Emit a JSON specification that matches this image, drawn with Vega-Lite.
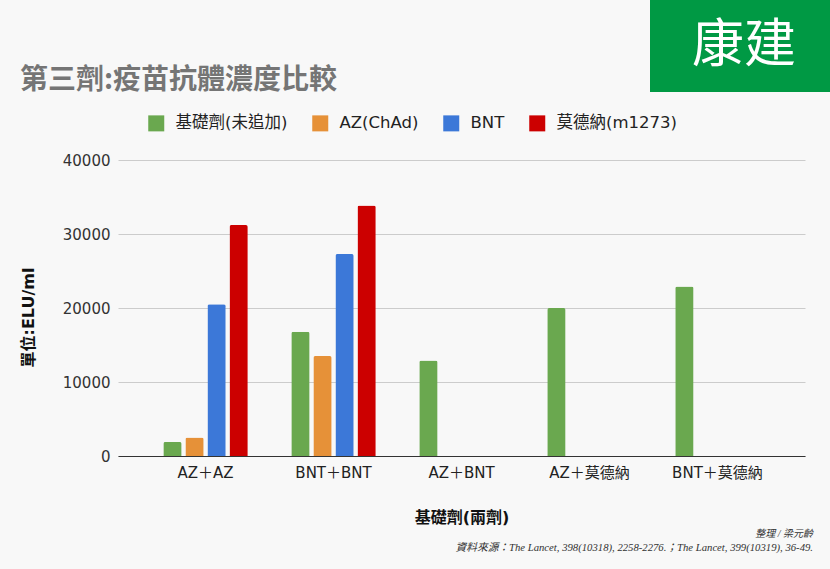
{
  "$schema": "https://vega.github.io/schema/vega-lite/v6.json",
  "background": "#f8f8f8",
  "padding": {"left": 20, "top": 0, "right": 0, "bottom": 24},
  "autosize": {"type": "pad"},
  "spacing": 20,
  "resolve": {"legend": {"color": "independent"}, "scale": {"color": "independent"}},
  "config": {
    "view": {"stroke": null},
    "font": "DejaVu Sans, Noto Sans CJK TC, sans-serif",
    "concat": {"spacing": 0}
  },
  "vconcat": [
    {
      "hconcat": [
        {
          "width": 532,
          "height": 62,
          "title": {"text": "第三劑:疫苗抗體濃度比較", "orient": "bottom", "anchor": "start", "frame": "group", "font": "Noto Sans CJK TC, sans-serif", "fontSize": 28, "fontWeight": "bold", "color": "#757575", "offset": 5, "dx": -98},
          "data": {"values": [{"t": ""}]},
          "mark": {"type": "text"},
          "encoding": {"text": {"field": "t"}}
        },
        {
          "width": 180,
          "height": 92,
          "view": {"fill": "#009944", "stroke": null},
          "data": {"values": [{"t": "康建"}]},
          "mark": {"type": "text", "fontSize": 52, "color": "#ffffff", "font": "Noto Sans CJK TC", "fontWeight": "normal", "align": "center", "baseline": "middle", "dx": 4},
          "encoding": {"text": {"field": "t"}}
        }
      ],
      "spacing": 0
    },
    {
      "width": 687,
      "height": 296,
      "data": {"values": [
        {"group": "AZ＋AZ", "series": "基礎劑(未追加)", "value": 1900},
        {"group": "AZ＋AZ", "series": "AZ(ChAd)", "value": 2500},
        {"group": "AZ＋AZ", "series": "BNT", "value": 20500},
        {"group": "AZ＋AZ", "series": "莫德納(m1273)", "value": 31200},
        {"group": "BNT＋BNT", "series": "基礎劑(未追加)", "value": 16800},
        {"group": "BNT＋BNT", "series": "AZ(ChAd)", "value": 13500},
        {"group": "BNT＋BNT", "series": "BNT", "value": 27300},
        {"group": "BNT＋BNT", "series": "莫德納(m1273)", "value": 33850},
        {"group": "AZ＋BNT", "series": "基礎劑(未追加)", "value": 12900},
        {"group": "AZ＋莫德納", "series": "基礎劑(未追加)", "value": 20000},
        {"group": "BNT＋莫德納", "series": "基礎劑(未追加)", "value": 22900}
      ]},
      "title": {
        "text": "整理 / 梁元齡",
        "subtitle": "資料來源：The Lancet, 398(10318), 2258-2276.；The Lancet, 399(10319), 36-49.",
        "orient": "bottom", "anchor": "end", "frame": "group",
        "font": "Liberation Serif, Noto Sans CJK TC, serif", "fontSize": 10, "fontStyle": "italic", "fontWeight": "normal", "color": "#333333",
        "subtitleFont": "Liberation Serif, Noto Sans CJK TC, serif", "subtitleFontSize": 10.7, "subtitleFontStyle": "italic", "subtitleColor": "#333333",
        "offset": 4, "subtitlePadding": 4, "dx": 8
      },
      "mark": {"type": "bar", "cornerRadiusTopLeft": 2, "cornerRadiusTopRight": 2},
      "encoding": {
        "x": {
          "field": "group", "type": "nominal",
          "sort": ["AZ＋AZ", "BNT＋BNT", "AZ＋BNT", "AZ＋莫德納", "BNT＋莫德納"],
          "scale": {"paddingInner": 0.34, "paddingOuter": 0.354},
          "title": "基礎劑(兩劑)",
          "axis": {"labelAngle": 0, "labelFontSize": 15, "labelColor": "#222222", "labelPadding": 9, "ticks": false, "tickSize": 0, "domainColor": "#333333", "domainWidth": 1, "titleFontSize": 16, "titleFontWeight": "bold", "titleColor": "#111111", "titlePadding": 29, "grid": false}
        },
        "xOffset": {
          "field": "series", "type": "nominal",
          "sort": ["基礎劑(未追加)", "AZ(ChAd)", "BNT", "莫德納(m1273)"],
          "scale": {"domain": ["基礎劑(未追加)", "AZ(ChAd)", "BNT", "莫德納(m1273)"], "paddingInner": 0.17, "paddingOuter": 0}
        },
        "y": {
          "field": "value", "type": "quantitative",
          "scale": {"domain": [0, 40000], "nice": false},
          "title": "單位:ELU/ml",
          "axis": {"values": [0, 10000, 20000, 30000, 40000], "format": "d", "labelFontSize": 15, "labelColor": "#333333", "labelPadding": 8, "ticks": false, "tickSize": 0, "domain": false, "gridColor": "#cccccc", "gridWidth": 1, "titleFontSize": 16, "titleFontWeight": "bold", "titleColor": "#111111", "titlePadding": 26, "titleY": 157}
        },
        "color": {
          "field": "series", "type": "nominal",
          "scale": {"domain": ["基礎劑(未追加)", "AZ(ChAd)", "BNT", "莫德納(m1273)"], "range": ["#6aa84f", "#e69138", "#3c78d8", "#cc0000"]},
          "legend": {"title": null, "orient": "none", "legendX": 30, "legendY": -45, "direction": "horizontal", "symbolType": "square", "symbolSize": 256, "symbolStrokeWidth": 0, "symbolOpacity": 1, "labelFontSize": 16.5, "labelOffset": 11, "columnPadding": 24, "labelColor": "#222222", "padding": 0, "labelLimit": 300}
        }
      }
    }
  ]
}
